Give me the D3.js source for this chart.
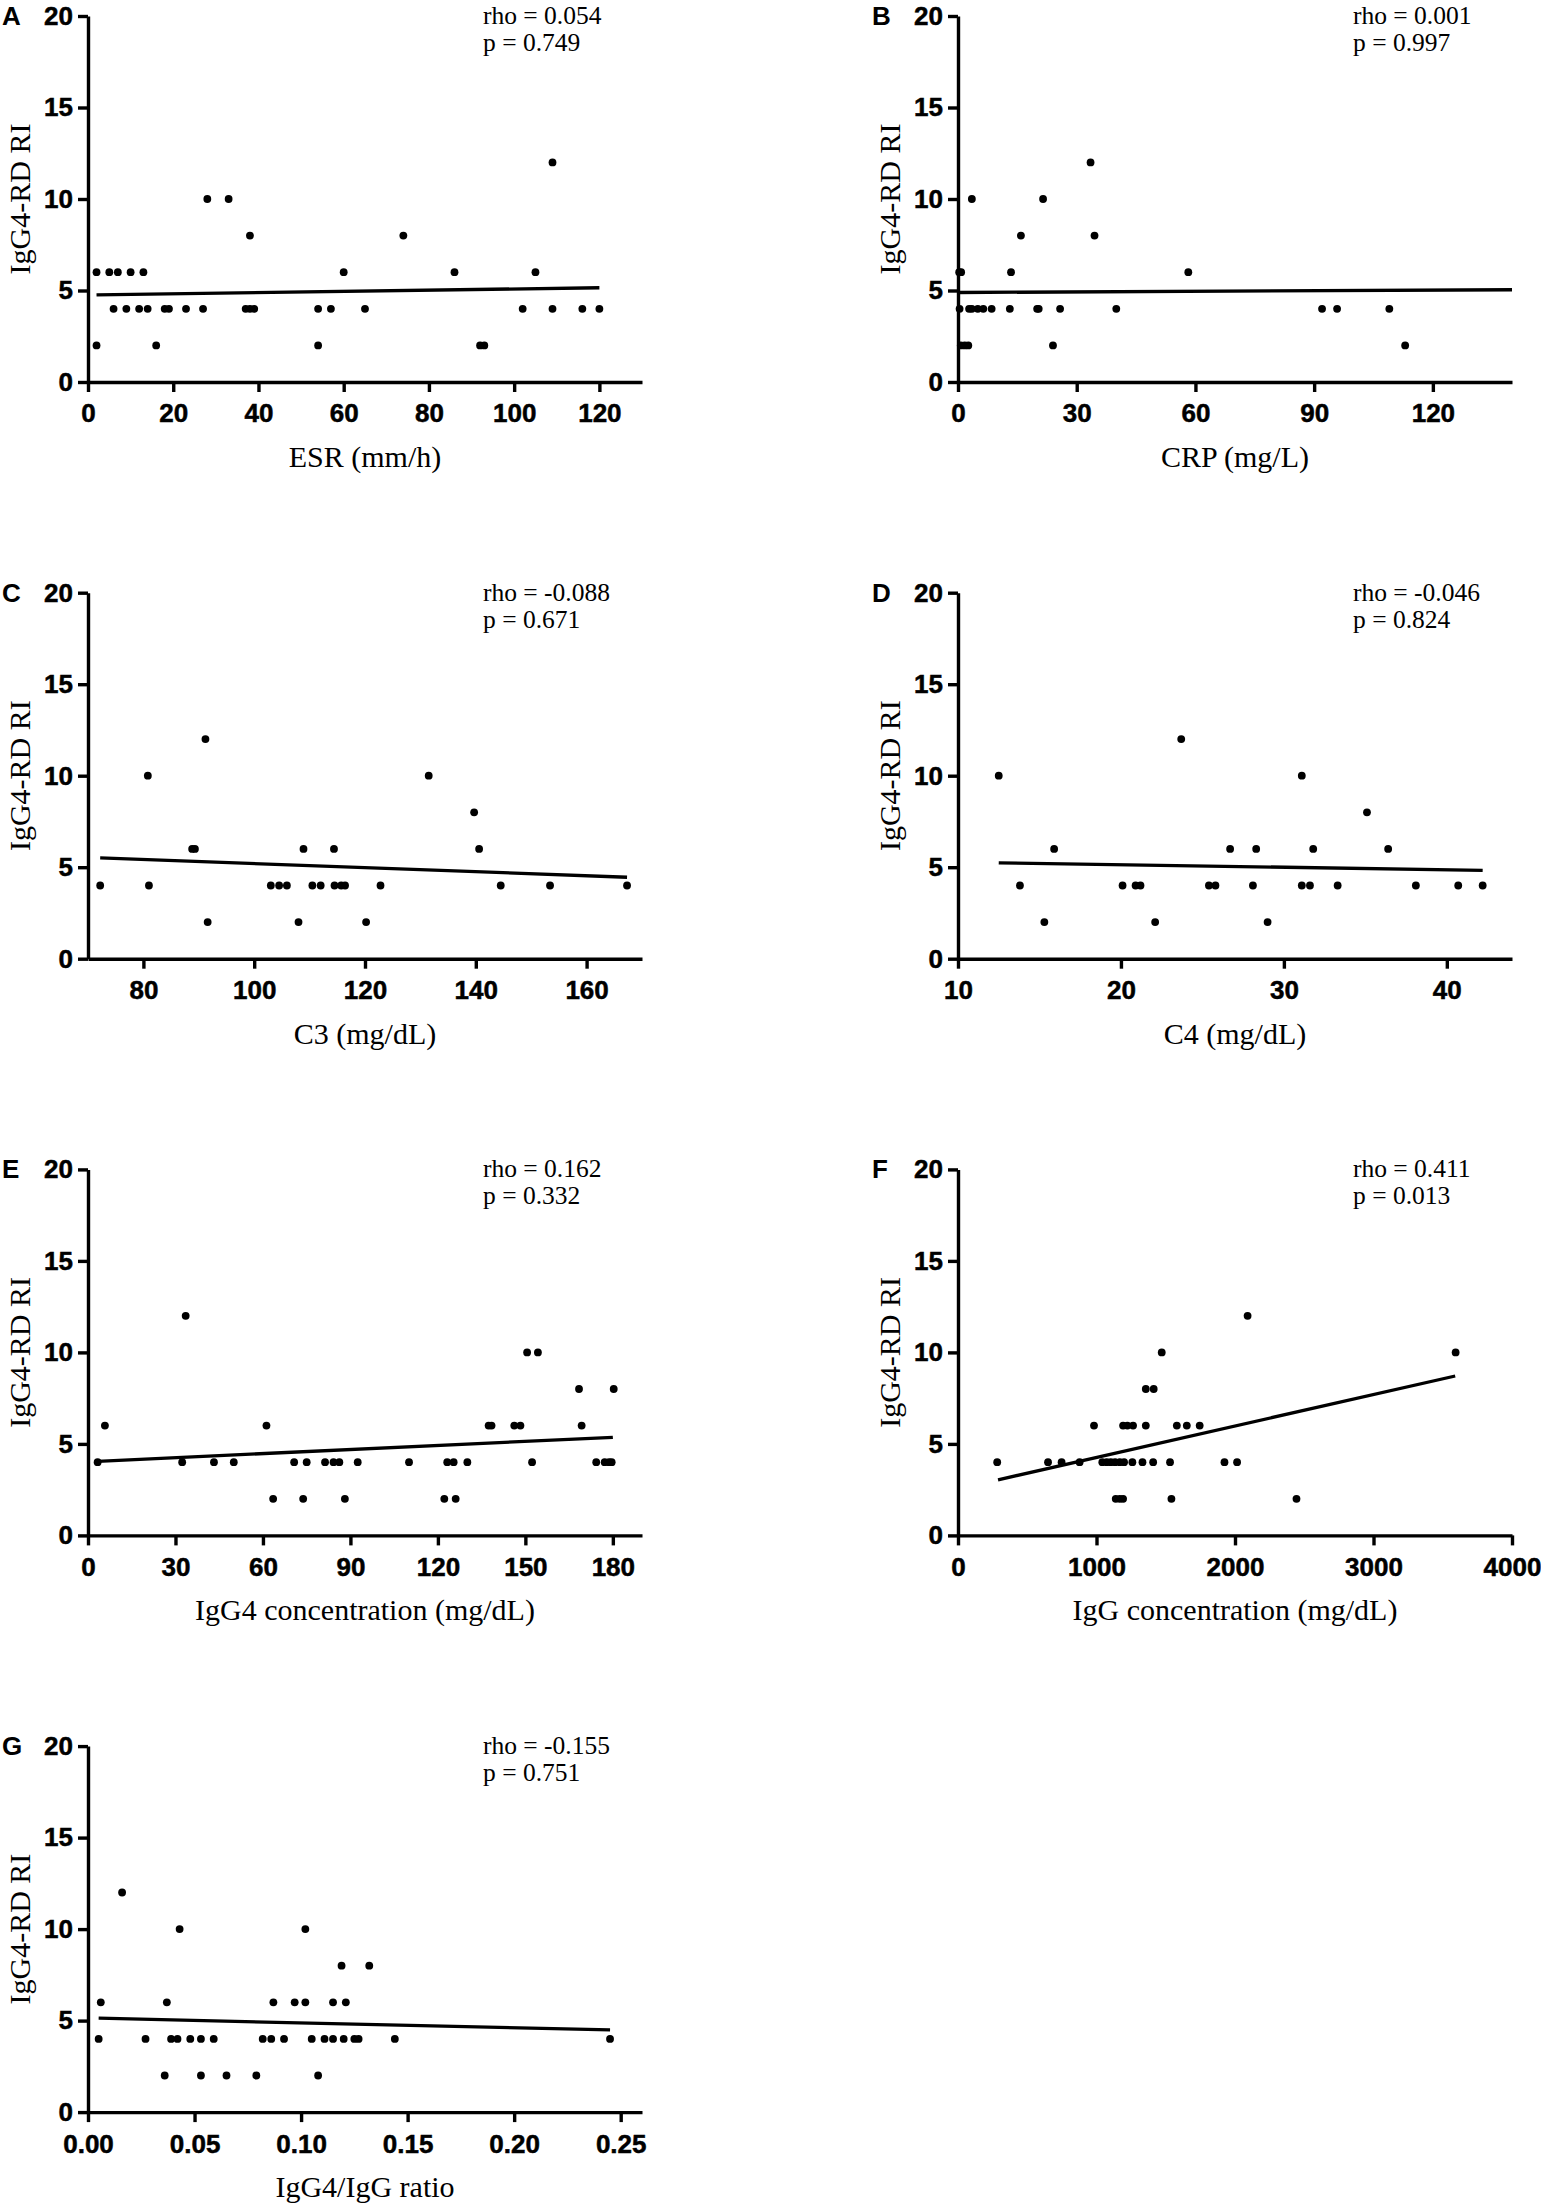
<!DOCTYPE html>
<html>
<head>
<meta charset="utf-8">
<style>
  body { margin: 0; background: #fff; }
  svg { display: block; background: #fff; }
  .tick text { font-family: "Liberation Sans", Arial, sans-serif; font-weight: bold; font-size: 26px; fill: #000; stroke: #000; stroke-width: 0.5px; }
  .domain, .tick line { stroke: #000; stroke-width: 3.4px; }
  .title { font-family: "Liberation Serif", "Times New Roman", serif; font-size: 30px; fill: #000; }
  .stat { font-family: "Liberation Serif", "Times New Roman", serif; font-size: 25.5px; fill: #000; }
  .letter { font-family: "Liberation Sans", Arial, sans-serif; font-weight: bold; font-size: 26px; fill: #000; }
</style>
</head>
<body>
<div id="chart"></div>
<script src="https://cdn.jsdelivr.net/npm/d3@7/dist/d3.min.js"></script>
<script>
'use strict';

// values, one x and one y list per panel
var esrX = [2,5,7,10,13,60,86,105, 6,9,12,14,18,19,23,27,37,38,39,54,57,65,102,109,116,120, 2,16,54,92,93, 28,33, 38,74, 109];
var esrY = [6,6,6,6,6,6,6,6, 4,4,4,4,4,4,4,4,4,4,4,4,4,4,4,4,4,4, 2,2,2,2,2, 10,10, 8,8, 12];

var crpX = [0.3,0.8,13.4,58.2, 0.4,2.8,3.5,5.0,6.4,8.5,13.1,20.0,20.4,25.8,40,92,95.8,109, 0.7,1.7,2.6,24,113, 3.5,21.5, 15.9,34.5, 33.5];
var crpY = [6,6,6,6, 4,4,4,4,4,4,4,4,4,4,4,4,4,4, 2,2,2,2,2, 10,10, 8,8, 12];

var c3X = [72.2,81,103,104.5,105.9,110.5,112,114.5,115.7,116.4,122.8,144.5,153.4,167.3, 91.6,108,120.2, 88.8,89.3,108.9,114.4,140.6, 80.8,131.5, 91.2, 139.7];
var c3Y = [4,4,4,4,4,4,4,4,4,4,4,4,4,4, 2,2,2, 6,6,6,6,6, 10,10, 12, 8];

var c4X = [12.5,31.1, 13.8,20.1,20.9,21.2,25.4,25.8,28.1,31.1,31.6,33.3,38.1,40.7,42.2, 15.3,22.1,29.0, 15.9,26.7,28.3,31.8,36.4, 23.7, 35.1];
var c4Y = [10,10, 4,4,4,4,4,4,4,4,4,4,4,4,4, 2,2,2, 6,6,6,6,6, 12, 8];

var igg4X = [3.3,32.3,43.2,50,70.7,75,81.3,84.2,86.2,92.5,110.1,123.2,125.4,130.1,152.3,174.3,177.2,178.7,179.6, 5.8,61.2,137.4,138.4,146.2,148.3,169.3, 63.5,73.8,88.1,122.2,126.1, 33.5, 150.6,154.3, 168.4,180.3];
var igg4Y = [4,4,4,4,4,4,4,4,4,4,4,4,4,4,4,4,4,4,4, 6,6,6,6,6,6,6, 2,2,2,2,2, 12, 10,10, 8,8];

var iggX = [283,650,748,878,1042,1074,1103,1134,1168,1199,1259,1332,1409,1531,1924,2015, 982,1192,1223,1264,1356,1580,1652,1745, 1139,1168,1192,1541,2444, 1356,1413, 1471,3593, 2091];
var iggY = [4,4,4,4,4,4,4,4,4,4,4,4,4,4,4,4, 6,6,6,6,6,6,6,6, 2,2,2,2,2, 8,8, 10,10, 12];

var ratioX = [0.005,0.027,0.039,0.042,0.048,0.053,0.059,0.082,0.086,0.092,0.105,0.111,0.115,0.120,0.125,0.127,0.144,0.245, 0.006,0.037,0.087,0.097,0.102,0.115,0.121, 0.036,0.053,0.065,0.079,0.108, 0.016, 0.043,0.102, 0.119,0.132];
var ratioY = [4,4,4,4,4,4,4,4,4,4,4,4,4,4,4,4,4,4, 6,6,6,6,6,6,6, 2,2,2,2,2, 12, 10,10, 8,8];

// regression line end points
var fitEsr   = [[2, 4.76], [120, 5.15]];
var fitCrp   = [[0, 4.89], [140, 5.04]];
var fitC3    = [[72.2, 5.51], [167.3, 4.45]];
var fitC4    = [[12.5, 5.24], [42.2, 4.83]];
var fitIgg4  = [[3.3, 4.05], [180, 5.36]];
var fitIgg   = [[289, 3.04], [3590, 8.71]];
var fitRatio = [[0.005, 5.13], [0.245, 4.49]];

var yTicks = [0, 5, 10, 15, 20];
var yLabel = 'IgG4-RD RI';

var panels = [
  { id: 'A', xs: esrX, ys: esrY, fit: fitEsr, dom: [0, 130], ticks: [0,20,40,60,80,100,120], fmt: d3.format('d'),
    title: 'ESR (mm/h)', rho: 'rho = 0.054', p: 'p = 0.749' },
  { id: 'B', xs: crpX, ys: crpY, fit: fitCrp, dom: [0, 140], ticks: [0,30,60,90,120], fmt: d3.format('d'),
    title: 'CRP (mg/L)', rho: 'rho = 0.001', p: 'p = 0.997' },
  { id: 'C', xs: c3X, ys: c3Y, fit: fitC3, dom: [70, 170], ticks: [80,100,120,140,160], fmt: d3.format('d'),
    title: 'C3 (mg/dL)', rho: 'rho = -0.088', p: 'p = 0.671' },
  { id: 'D', xs: c4X, ys: c4Y, fit: fitC4, dom: [10, 44], ticks: [10,20,30,40], fmt: d3.format('d'),
    title: 'C4 (mg/dL)', rho: 'rho = -0.046', p: 'p = 0.824' },
  { id: 'E', xs: igg4X, ys: igg4Y, fit: fitIgg4, dom: [0, 190], ticks: [0,30,60,90,120,150,180], fmt: d3.format('d'),
    title: 'IgG4 concentration (mg/dL)', rho: 'rho = 0.162', p: 'p = 0.332' },
  { id: 'F', xs: iggX, ys: iggY, fit: fitIgg, dom: [0, 4000], ticks: [0,1000,2000,3000,4000], fmt: d3.format('d'),
    title: 'IgG concentration (mg/dL)', rho: 'rho = 0.411', p: 'p = 0.013' },
  { id: 'G', xs: ratioX, ys: ratioY, fit: fitRatio, dom: [0, 0.26], ticks: [0,0.05,0.10,0.15,0.20,0.25], fmt: d3.format('.2f'),
    title: 'IgG4/IgG ratio', rho: 'rho = -0.155', p: 'p = 0.751' }
];

var W = 1541, H = 2204;
var colX = [88, 958], rowY = 16, rowStep = 576.7;
var pw = 554, ph = 366;

var svg = d3.select('#chart').append('svg').attr('width', W).attr('height', H);

panels.forEach(function (p, i) {
  var x0 = colX[i % 2], y0 = rowY + Math.floor(i / 2) * rowStep;
  var g = svg.append('g').attr('transform', 'translate(' + x0 + ',' + y0 + ')');

  var x = d3.scaleLinear().domain(p.dom).range([0, pw]);
  var y = d3.scaleLinear().domain([0, 20]).range([ph, 0]);

  g.append('g').attr('transform', 'translate(0,' + ph + ')')
    .call(d3.axisBottom(x).tickValues(p.ticks).tickFormat(p.fmt).tickSizeInner(10).tickSizeOuter(0).tickPadding(12));
  g.append('g')
    .call(d3.axisLeft(y).tickValues(yTicks).tickSizeInner(10).tickSizeOuter(0).tickPadding(5));

  g.append('path')
    .attr('d', d3.line().x(function (d) { return x(d[0]); }).y(function (d) { return y(d[1]); })(p.fit))
    .attr('stroke', '#000').attr('stroke-width', 3.3).attr('fill', 'none');

  g.selectAll('circle.dot').data(p.xs).enter().append('circle')
    .attr('class', 'dot')
    .attr('cx', function (d) { return x(d); })
    .attr('cy', function (d, j) { return y(p.ys[j]); })
    .attr('r', 3.9).attr('fill', '#000');

  g.append('text').attr('class', 'letter').attr('x', -86).attr('y', 9).text(p.id);
  g.append('text').attr('class', 'stat').attr('x', 395).attr('y', 8).text(p.rho);
  g.append('text').attr('class', 'stat').attr('x', 395).attr('y', 35).text(p.p);
  g.append('text').attr('class', 'title').attr('text-anchor', 'middle')
    .attr('x', pw / 2).attr('y', ph + 85).text(p.title);
  g.append('text').attr('class', 'title').attr('text-anchor', 'middle')
    .attr('transform', 'translate(-58,' + (ph / 2) + ') rotate(-90)').text(yLabel);
});
</script>
</body>
</html>
